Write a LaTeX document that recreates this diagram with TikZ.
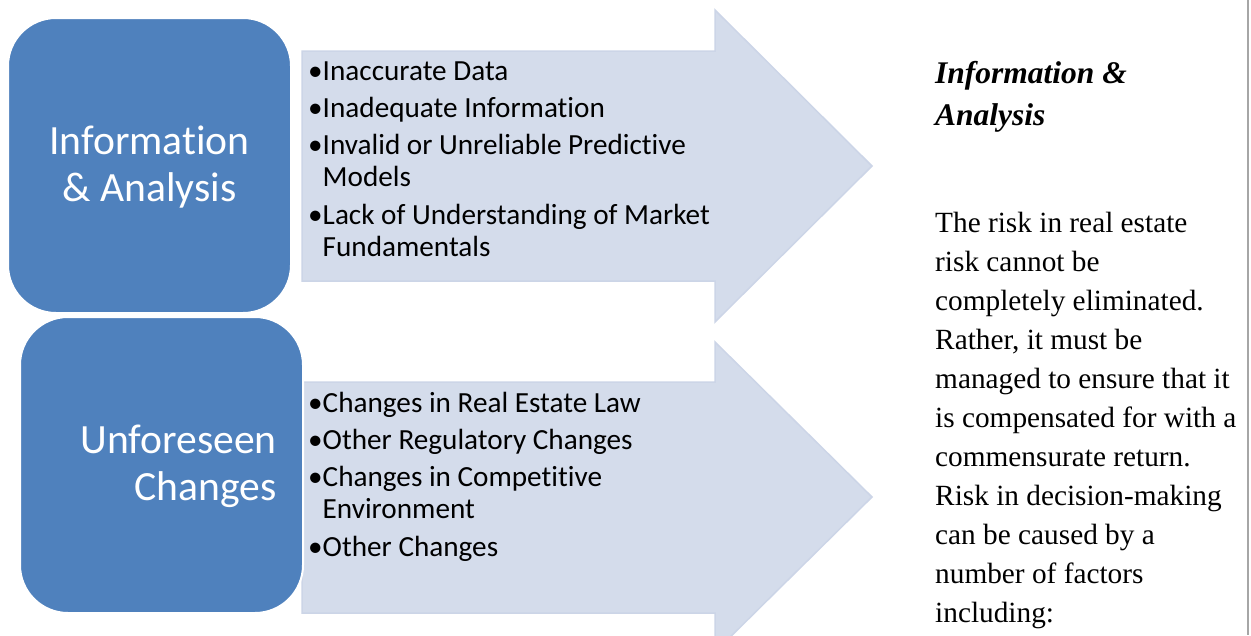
\documentclass[tikz,border=0pt]{standalone}
\usepackage{fontspec}
\setmainfont{Liberation Serif}
\newfontfamily\calib[Ligatures=CommonOff]{Carlito}
\definecolor{boxblue}{HTML}{4F81BD}
\definecolor{arrowfill}{HTML}{D4DCEB}
\definecolor{arrowedge}{HTML}{CCD5E7}
\definecolor{edgegray}{HTML}{A6A6A6}
\tikzset{
  bigarrow/.style={fill=arrowfill, draw=arrowedge, line width=1.5pt, line join=miter},
  catbox/.style={fill=boxblue, draw=white, line width=2pt, rounded corners=48pt},
  boxtext/.style={inner sep=0pt, text=white, font=\calib\fontsize{41.6}{47}\selectfont},
  itemtext/.style={inner sep=0pt, anchor=base west, text=black, font=\calib\fontsize{29.2}{33}\selectfont},
  headtext/.style={inner sep=0pt, anchor=base west, font=\bfseries\itshape\fontsize{31.5}{42}\selectfont},
  bodytext/.style={inner sep=0pt, anchor=base west, font=\fontsize{29.3}{39}\selectfont},
}
\newcommand{\ind}{\phantom{•}}
\begin{document}
\begin{tikzpicture}[x=1pt,y=-1pt]
\useasboundingbox (0,0) rectangle (1251,635);
\fill[white] (0,0) rectangle (1251,635);
\clip (0,0) rectangle (1251,635);
% arrows
\path[bigarrow] (302,51) -- (715,51) -- (715,10) -- (872,166) -- (715,322) -- (715,281) -- (302,281) -- cycle;
\path[bigarrow] (302,382) -- (715,382) -- (715,342) -- (872,497) -- (715,652) -- (715,613) -- (302,613) -- cycle;
% category boxes
\path[catbox] (8,18) rectangle (291,313);
\path[catbox] (20,317) rectangle (303,613);
\node[boxtext, anchor=base] (ia1) at (149.5,154) {Information};
\node[boxtext, anchor=base] (ia2) at (149.5,201) {\& Analysis};
\node[boxtext, anchor=base east] (uc1) at (277,453) {Unforeseen};
\node[boxtext, anchor=base east] (uc2) at (277,500) {Changes};
% top arrow items
\node[itemtext] (t1) at (308,80) {•Inaccurate Data};
\node[itemtext] (t2) at (308,117) {•Inadequate Information};
\node[itemtext] (t3) at (308,154) {•Invalid or Unreliable Predictive};
\node[itemtext] (t3b) at (308,186) {\ind Models};
\node[itemtext] (t4) at (308,224) {•Lack of Understanding of Market};
\node[itemtext] (t4b) at (308,256) {\ind Fundamentals};
% bottom arrow items
\node[itemtext] (b1) at (308,412) {•Changes in Real Estate Law};
\node[itemtext] (b2) at (308,449) {•Other Regulatory Changes};
\node[itemtext] (b3) at (308,486) {•Changes in Competitive};
\node[itemtext] (b3b) at (308,518) {\ind Environment};
\node[itemtext] (b4) at (308,556) {•Other Changes};
% right text
\node[headtext] (h1) at (935,83) {Information \&};
\node[headtext] (h2) at (935,125) {Analysis};
\node[bodytext] (p1) at (935,232) {The risk in real estate};
\node[bodytext] (p2) at (935,271) {risk cannot be};
\node[bodytext] (p3) at (935,310) {completely eliminated.};
\node[bodytext] (p4) at (935,349) {Rather, it must be};
\node[bodytext] (p5) at (935,388) {managed to ensure that it};
\node[bodytext] (p6) at (935,427) {is compensated for with a};
\node[bodytext] (p7) at (935,466) {commensurate return.};
\node[bodytext] (p8) at (935,505) {Risk in decision-making};
\node[bodytext] (p9) at (935,544) {can be caused by a};
\node[bodytext] (p10) at (935,583) {number of factors};
\node[bodytext] (p11) at (935,622) {including:};
% right edge rule
\draw[edgegray, line width=1.2pt] (1248,0) -- (1248,635);
\end{tikzpicture}
\end{document}
